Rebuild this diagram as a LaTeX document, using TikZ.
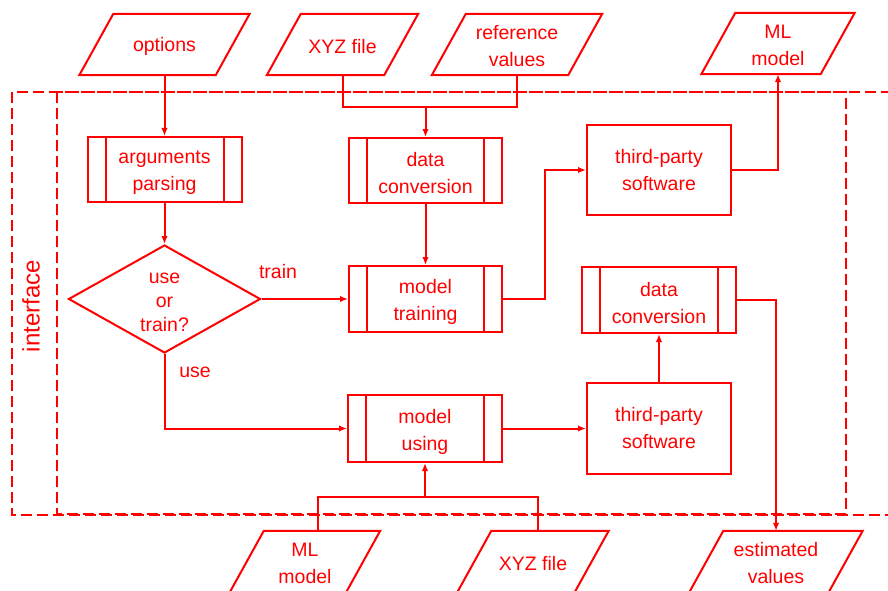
\documentclass[tikz,border=0pt]{standalone}
\usepackage{fontspec}
\setmainfont{Liberation Sans}
\usetikzlibrary{shapes.geometric,arrows.meta}
\definecolor{fc}{RGB}{255,0,0}
\tikzset{
  every node/.style={font=\fontsize{19.5}{27}\selectfont, text=fc, align=center},
  ln/.style={draw=fc, line width=2pt},
  arr/.style={ln, -{Latex[length=8pt,width=6.5pt]}},
  dsh/.style={draw=fc, line width=2pt, dash pattern=on 11pt off 5pt},
  pbox/.style={draw=fc, line width=2pt, rectangle, inner sep=0pt},
  lbl/.style={inner sep=0pt},
}
\newcommand{\parabox}[5]{%
  \node[lbl, minimum width=#4, minimum height=61pt] (#1) at (#2,#3) {};
  \node[lbl] (#1t) at ([yshift=-2pt]#1.center) {#5};
  \draw[ln, line join=miter] ([xshift=-17pt]#1.south west) -- ([xshift=-17pt]#1.south east) -- ([xshift=17pt]#1.north east) -- ([xshift=17pt]#1.north west) -- cycle;}
\newcommand{\procbox}[6]{%
  \node[pbox, minimum width=#4, minimum height=#5] (#1) at (#2,#3) {};
  \node[lbl] (#1t) at ([yshift=-3pt]#1.center) {#6};
  \draw[ln] ([xshift=19pt]#1.north west) -- ([xshift=19pt]#1.south west);
  \draw[ln] ([xshift=-19pt]#1.north east) -- ([xshift=-19pt]#1.south east);}
\begin{document}
\begin{tikzpicture}[x=1pt,y=-1pt]
\useasboundingbox (0,0) rectangle (888,591);
% dashed frames
\draw[dsh] (892,92) -- (12,92) -- (12,515) -- (892,515);
\draw[dsh] (57,92) rectangle (846,514);
\node[lbl, rotate=90, font=\fontsize{24}{28}\selectfont] (itf) at (31,306) {interface};
% inputs / outputs
\parabox{opt}{164.5}{44.5}{136pt}{options}
\parabox{xyzA}{342.5}{44.5}{117pt}{XYZ file}
\parabox{ref}{517}{44.5}{136pt}{reference\\values}
\parabox{mlA}{778}{43.5}{119pt}{ML\\model}
\parabox{mlB}{305}{561.5}{116pt}{ML\\model}
\parabox{xyzB}{533}{561.5}{117pt}{XYZ file}
\parabox{est}{776}{561.5}{139pt}{estimated\\values}
% processes
\procbox{args}{164.5}{169.5}{154pt}{65pt}{arguments\\parsing}
\procbox{dcA}{425.5}{170.5}{153pt}{65pt}{data\\conversion}
\procbox{mt}{425.5}{299}{153pt}{66pt}{model\\training}
\procbox{mu}{425}{428.5}{154pt}{67pt}{model\\using}
\procbox{dcB}{659}{300}{154pt}{66pt}{data\\conversion}
\node[pbox, minimum width=144pt, minimum height=90pt] (tpA) at (659,170) {third-party\\software};
\node[pbox, minimum width=144pt, minimum height=91pt] (tpB) at (659,428.5) {third-party\\software};
\node[draw=fc, line width=2pt, diamond, minimum width=192pt, minimum height=108pt, inner sep=0pt] (dec) at (164.5,299) {};
\node[lbl, font=\fontsize{19.5}{24}\selectfont] (dect) at ([yshift=-3pt]dec.center) {use\\or\\train?};
% labels
\node[lbl] (ltrain) at (278,272) {train};
\node[lbl] (luse) at (195,372) {use};
% connectors
\draw[arr] (opt.south) -- (args.north);
\coordinate (j1) at (425.5,107);
\draw[ln] (xyzA.south) |- (j1) -| (ref.south);
\draw[arr] (j1) -- (dcA.north);
\draw[arr] (dcA.south) -- (mt.north);
\draw[arr] (args.south) -- (dec.north);
\draw[arr] (dec.east) -- (mt.west);
\draw[arr] (dec.south) |- (mu.west);
\coordinate (k1) at (545,299);
\draw[arr] (mt.east) -- (k1) |- (tpA.west);
\draw[arr] (tpA.east) -| (mlA.south);
\draw[arr] (mu.east) -- (tpB.west);
\draw[arr] (tpB.north) -- (dcB.south);
\draw[arr] (dcB.east) -| (est.north);
\coordinate (j2) at (425,497);
\coordinate (mlBt) at (318,531);
\coordinate (xyzBt) at (538,531);
\draw[ln] (mlBt) |- (j2) -| (xyzBt);
\draw[arr] (j2) -- (mu.south);
\end{tikzpicture}
\end{document}
